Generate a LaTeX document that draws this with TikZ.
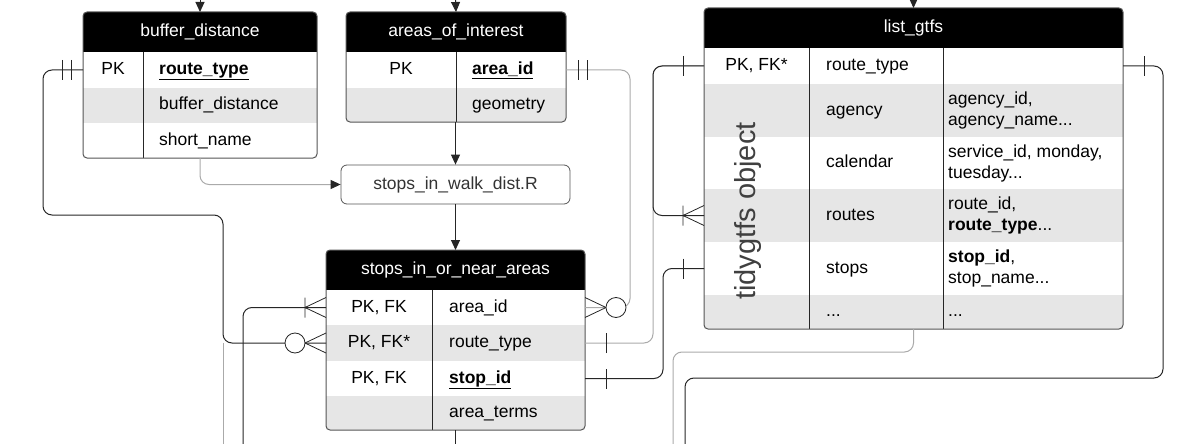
\documentclass[tikz,border=0pt]{standalone}
\usepackage{fontspec}
\setmainfont{Liberation Sans}
\usetikzlibrary{arrows.meta}

\definecolor{rowgray}{HTML}{E6E6E6}
\definecolor{framegray}{HTML}{555555}
\definecolor{linegray}{HTML}{AAAAAA}

\begin{document}
\begin{tikzpicture}[x=1pt, y=-1pt, font=\fontsize{17.5}{21}\selectfont,
        cell/.style={inner sep=0pt, outer sep=0pt, anchor=north west},
        hdr/.style={cell, fill=black, text=white, minimum height=40pt},
        whiterow/.style={cell, fill=white},
        grayrow/.style={cell, fill=rowgray},
        txt/.style={inner sep=0pt, text height=12.5pt, text depth=3.5pt},
        fld/.style={txt, anchor=west},
        twoline/.style={inner sep=0pt, anchor=west, align=left},
        tblframe/.style={draw=framegray, line width=1pt, rounded corners=4pt},
        divline/.style={draw=black!85, line width=1pt},
        conn/.style={draw=black!85, line width=1pt, rounded corners=9pt},
        connlight/.style={draw=linegray, line width=1pt, rounded corners=9pt},
        arr/.style={-{Triangle[length=10pt,width=9pt,color=black!85]}},
        markline/.style={draw=black!85, line width=0.8pt},
        erone/.pic={\draw[markline] (-21,-10) -- (-21,10);},
        eronly/.pic={\draw[markline] (-12,-10) -- (-12,10) (-21,-10) -- (-21,10);},
        ermany/.pic={\draw[markline] (-21,-10) -- (-21,10) (0,-10) -- (-21,0) -- (0,10);},
        erzmany/.pic={\draw[markline] (0,-10) -- (-21,0) -- (0,10);
            \draw[markline, fill=white] (-31,0) circle (10pt);}]

    \useasboundingbox (0,0) rectangle (1187,444);

    % buffer_distance
    \begin{scope}
        \clip[rounded corners=4pt] (83,12) rectangle (317,158);
        \node[hdr, minimum width=234pt] (bd) at (83,12) {buffer\_distance};
        \node[whiterow, minimum width=234pt, minimum height=36pt] (bd1) at (83,52) {};
        \node[grayrow, minimum width=234pt, minimum height=35pt] (bd2) at (83,88) {};
        \node[whiterow, minimum width=234pt, minimum height=35pt] (bd3) at (83,123) {};
    \end{scope}
    \draw[divline] ([xshift=60pt]bd1.north west) -- ([xshift=60pt]bd3.south west);
    \node[txt] (bd1k) at ([xshift=30pt]bd1.west) {PK};
    \node[fld] (bd1f) at ([xshift=76pt]bd1.west) {\underline{\textbf{route\_type}}};
    \node[fld] (bd2f) at ([xshift=76pt]bd2.west) {buffer\_distance};
    \node[fld] (bd3f) at ([xshift=76pt]bd3.west) {short\_name};
    \draw[tblframe] (bd.north west) rectangle (bd3.south east);

    % areas_of_interest
    \begin{scope}
        \clip[rounded corners=4pt] (346,12) rectangle (566,122);
        \node[hdr, minimum width=220pt] (aoi) at (346,12) {areas\_of\_interest};
        \node[whiterow, minimum width=220pt, minimum height=36pt] (aoi1) at (346,52) {};
        \node[grayrow, minimum width=220pt, minimum height=34pt] (aoi2) at (346,88) {};
    \end{scope}
    \draw[divline] ([xshift=110pt]aoi1.north west) -- ([xshift=110pt]aoi2.south west);
    \node[txt] (aoi1k) at ([xshift=55pt]aoi1.west) {PK};
    \node[fld] (aoi1f) at ([xshift=126pt]aoi1.west) {\underline{\textbf{area\_id}}};
    \node[fld] (aoi2f) at ([xshift=126pt]aoi2.west) {geometry};
    \draw[tblframe] (aoi.north west) rectangle (aoi2.south east);

    % script
    \node[draw=framegray, line width=0.8pt, rounded corners=6pt, inner sep=0pt,
        minimum width=229pt, minimum height=39pt, text=black!80] (walk) at (455.5,184.5) {stops\_in\_walk\_dist.R};

    % stops_in_or_near_areas
    \begin{scope}
        \clip[rounded corners=4pt] (326,250) rectangle (585,430);
        \node[hdr, minimum width=259pt] (sna) at (326,250) {stops\_in\_or\_near\_areas};
        \node[whiterow, minimum width=259pt, minimum height=35pt] (sna1) at (326,290) {};
        \node[grayrow, minimum width=259pt, minimum height=36pt] (sna2) at (326,325) {};
        \node[whiterow, minimum width=259pt, minimum height=35pt] (sna3) at (326,361) {};
        \node[grayrow, minimum width=259pt, minimum height=34pt] (sna4) at (326,396) {};
    \end{scope}
    \draw[divline] ([xshift=106pt]sna1.north west) -- ([xshift=106pt]sna4.south west);
    \node[txt] (sna1k) at ([xshift=53pt]sna1.west) {PK, FK};
    \node[txt] (sna2k) at ([xshift=53pt]sna2.west) {PK, FK*};
    \node[txt] (sna3k) at ([xshift=53pt]sna3.west) {PK, FK};
    \node[fld] (sna1f) at ([xshift=123pt]sna1.west) {area\_id};
    \node[fld] (sna2f) at ([xshift=123pt]sna2.west) {route\_type};
    \node[fld] (sna3f) at ([xshift=123pt]sna3.west) {\underline{\textbf{stop\_id}}};
    \node[fld] (sna4f) at ([xshift=123pt]sna4.west) {area\_terms};
    \draw[tblframe] (sna.north west) rectangle (sna4.south east);

    % list_gtfs
    \begin{scope}
        \clip[rounded corners=4pt] (704,8) rectangle (1123,329);
        \node[hdr, minimum width=419pt] (lg) at (704,8) {list\_gtfs};
        \node[whiterow, minimum width=419pt, minimum height=36pt] (lg1) at (704,48) {};
        \node[grayrow, minimum width=419pt, minimum height=53pt] (lg2) at (704,84) {};
        \node[whiterow, minimum width=419pt, minimum height=52pt] (lg3) at (704,137) {};
        \node[grayrow, minimum width=419pt, minimum height=53pt] (lg4) at (704,189) {};
        \node[whiterow, minimum width=419pt, minimum height=53pt] (lg5) at (704,242) {};
        \node[grayrow, minimum width=419pt, minimum height=34pt] (lg6) at (704,295) {};
    \end{scope}
    \draw[divline] ([xshift=105pt]lg1.north west) -- ([xshift=105pt]lg6.south west);
    \draw[divline] ([xshift=239pt]lg1.north west) -- ([xshift=239pt]lg6.south west);
    \node[txt] (lg1k) at ([xshift=52.5pt]lg1.west) {PK, FK*};
    \node[fld] (lg1f) at ([xshift=122pt]lg1.west) {route\_type};
    \node[fld] (lg2f) at ([xshift=122pt]lg2.west) {agency};
    \node[fld] (lg3f) at ([xshift=122pt]lg3.west) {calendar};
    \node[fld] (lg4f) at ([xshift=122pt]lg4.west) {routes};
    \node[fld] (lg5f) at ([xshift=122pt]lg5.west) {stops};
    \node[fld] (lg6f) at ([xshift=122pt]lg6.west) {...};
    \node[twoline] (lg2c) at ([xshift=244pt]lg2.west) {agency\_id,\\agency\_name...};
    \node[twoline] (lg3c) at ([xshift=244pt]lg3.west) {service\_id, monday,\\tuesday...};
    \node[twoline] (lg4c) at ([xshift=244pt]lg4.west) {route\_id,\\\textbf{route\_type}...};
    \node[twoline] (lg5c) at ([xshift=244pt]lg5.west) {\textbf{stop\_id},\\stop\_name...};
    \node[fld] (lg6c) at ([xshift=244pt]lg6.west) {...};
    \node[rotate=90, inner sep=0pt, text=black!75, font=\fontsize{29}{34}\selectfont] (tidy) at (748,211) {tidygtfs object};
    \draw[tblframe] (lg.north west) rectangle (lg6.south east);

    % free ends
    \coordinate (t1) at (200,0);
    \coordinate (t2) at (455.5,0);
    \coordinate (t3) at (913.5,0);
    \coordinate (b0) at (223,444);
    \coordinate (b1) at (243,444);
    \coordinate (b2) at (673,444);
    \coordinate (b3) at (685,444);
    \coordinate (b4) at (455.5,444);

    % flow
    \draw[conn, arr] (t1) -- (bd.north);
    \draw[conn, arr] (t2) -- (aoi.north);
    \draw[conn, arr] (t3) -- (lg.north);
    \draw[conn, arr] (walk.north |- aoi2.south) -- (walk.north);
    \draw[connlight, arr] (bd3.south) |- (walk.west);
    \draw[conn, arr] (walk.south) -- (sna.north);
    \draw[conn] (sna4.south) -- (b4);

    % relations
    \draw[connlight] (sna2.west -| b0) -- (b0);
    \draw[connlight] (aoi1.east) -- ++(64,0) |- (sna1.east);
    \draw[connlight] (sna2.east) -- ++(68,0) |- (lg1.west);
    \draw[connlight] (lg6.south) -- ++(0,23) -| (b2);
    \draw[conn] (bd1.west) -- ++(-40,0) |- (223,215) |- (sna2.west);
    \draw[conn] (sna1.west) -| (b1);
    \draw[conn] (lg1.west) -- ++(-51,0) |- (lg4.west);
    \draw[conn] (sna3.east) -- ++(78,0) |- (lg5.west);
    \draw[conn] (lg1.east) -- ++(40,0) -- ++(0,312) -| (b3);

    % ends
    \pic at (bd1.west) {eronly};
    \pic[rotate=180] at (aoi1.east) {eronly};
    \pic at (sna1.west) {ermany};
    \pic at (sna2.west) {erzmany};
    \pic[rotate=180] at (sna1.east) {erzmany};
    \pic[rotate=180] at (sna2.east) {erone};
    \pic[rotate=180] at (sna3.east) {erone};
    \pic at (lg1.west) {erone};
    \pic at (lg4.west) {ermany};
    \pic at (lg5.west) {erone};
    \pic[rotate=180] at (lg1.east) {erone};
\end{tikzpicture}
\end{document}
